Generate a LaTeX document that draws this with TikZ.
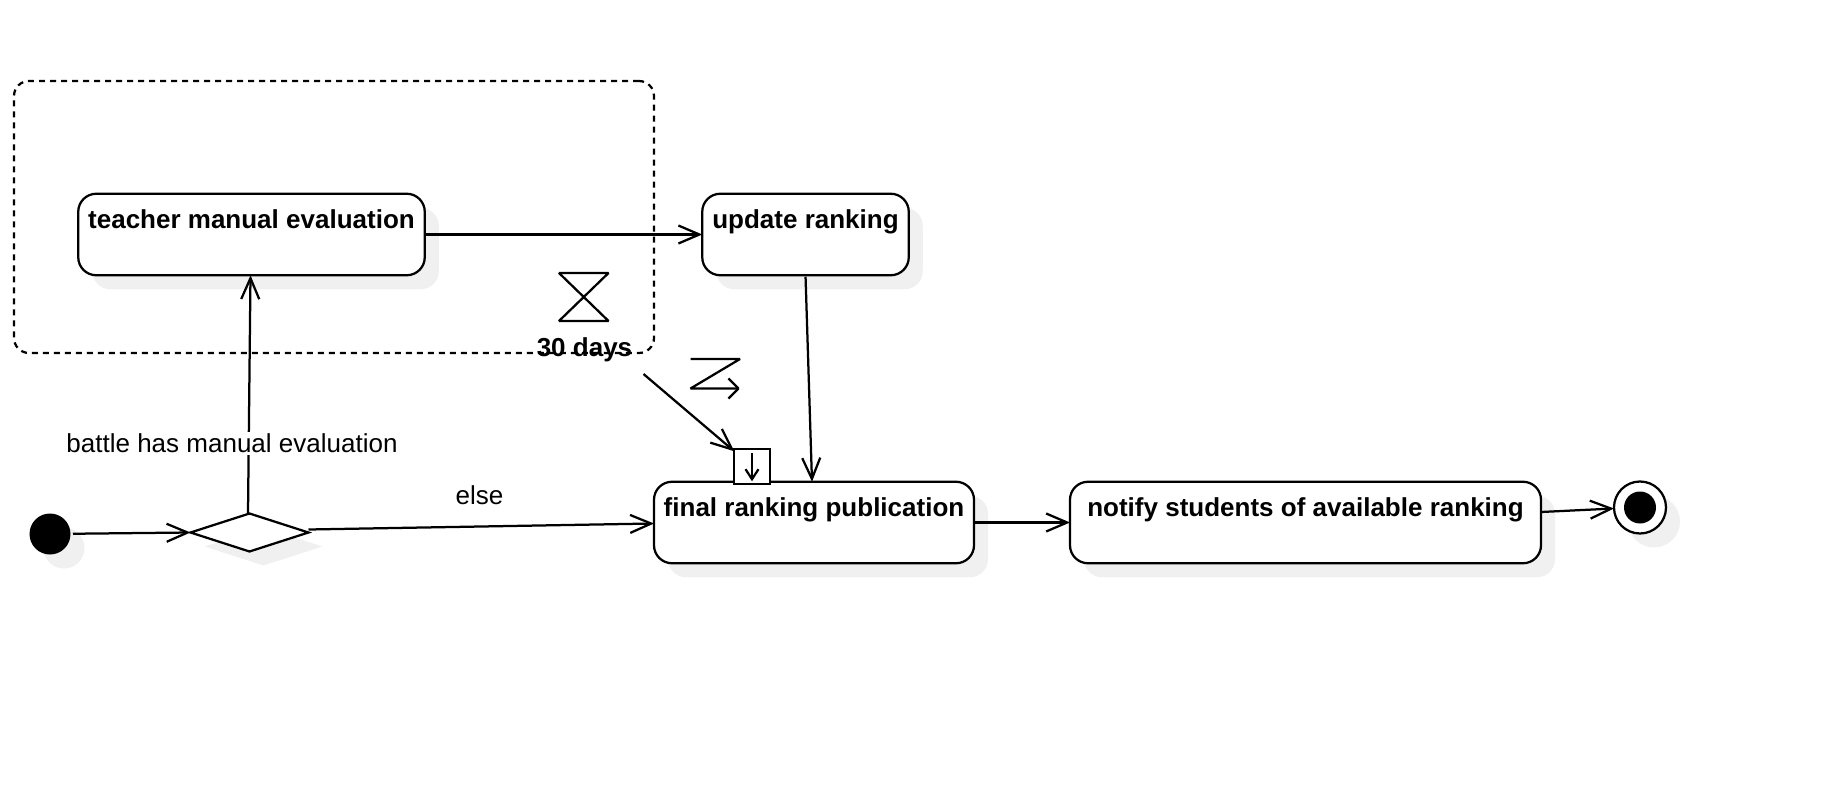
\documentclass[tikz,border=0pt]{standalone}
\usepackage{fontspec}
\setmainfont{Liberation Sans}
\usetikzlibrary{positioning,shapes,shadows,arrows.meta}

\begin{document}
\begin{tikzpicture}[line width=0.045cm]
    \tikzset{
        softshadow/.style = {drop shadow={shadow xshift=0.28cm, shadow yshift=-0.28cm, fill=black!6, opacity=1}},
        statebox/.style = {rectangle, rounded corners=0.36cm, draw=black, fill=white, outer sep=0pt, minimum height=1.63cm,
                           inner xsep=2pt, text height=0.4cm, text depth=0.655cm, font=\fontsize{14.8}{17}\selectfont\bfseries, softshadow},
        guard/.style = {font=\fontsize{14.8}{18}\selectfont, inner sep=1pt},
        bullet/.style = {circle, fill=black, inner sep=0pt, outer sep=0pt},
        arrow/.style = {-{Straight Barb[length=0.42cm,width=0.36cm]}},
        tinyarrow/.style = {-{Straight Barb[length=0.2cm,width=0.26cm]}},
    }
    \useasboundingbox (0,0) rectangle (36.62,15.92);

    \node (region) [draw, dash pattern=on 0.12cm off 0.1cm, rounded corners=0.3cm, outer sep=0pt,
                    minimum width=12.8cm, minimum height=5.44cm] at (6.68,11.58) {};

    \node (final) [statebox, minimum width=6.4cm] at (16.28,5.47) {final ranking publication};
    \node (update) [statebox, minimum width=4.13cm, above=4.13cm of final, xshift=-0.17cm] {update ranking};
    \node (teacher) [statebox, minimum width=6.93cm, left=5.55cm of update] {teacher manual evaluation};
    \node (notify) [statebox, minimum width=9.42cm, right=1.92cm of final] {notify students of available ranking};
    \node (decision) [diamond, aspect=3.15, draw, fill=white, inner sep=0pt, outer sep=0pt, minimum width=2.36cm, minimum height=0.76cm,
                      softshadow, left=6.91cm of final, yshift=-0.2cm] {};
    \node (start) [bullet, minimum size=0.82cm, softshadow, left=2.4cm of decision, yshift=-0.03cm] {};
    \node (end) [circle, draw, fill=white, outer sep=0pt, minimum size=1.04cm, softshadow, right=1.46cm of notify, yshift=0.3cm] {};
    \node (endcore) [bullet, minimum size=0.64cm] at (end) {};

    \node (pin) [draw, fill=white, outer sep=0pt, minimum size=0.71cm, above=-0.05cm of final, xshift=-1.24cm] {};
    \draw [tinyarrow, shorten <=0.08cm, shorten >=0.06cm] (pin.north) -- (pin.south);

    % timer with its label
    \draw [miter limit=1.5] (11.18,10.46) -- (12.17,10.46) -- (11.18,9.5) -- (12.17,9.5) -- cycle;
    \node (days) [font=\fontsize{14.8}{18}\selectfont\bfseries, inner sep=0pt] at (11.69,8.93) {30 days};

    % interrupt sign
    \draw [miter limit=1, -{Straight Barb[length=0.2cm,width=0.4cm]}] (13.81,8.74) -- (14.8,8.74) -- (13.81,8.15) -- (14.8,8.15);

    \coordinate (flowstart) at (12.87,8.44);
    \draw [arrow] (flowstart) -- ([shift={(0,-0.05)}]pin.north west);

    \draw [arrow, shorten <=0.05cm] (start) -- (decision.west);
    \draw [arrow] ([xshift=-0.03cm]decision.north) -- ([xshift=-0.02cm]teacher.south);
    \draw [arrow] ([yshift=0.06cm]decision.east) -- ([yshift=-0.02cm]final.west);
    \draw [arrow, shorten <=0.02cm] (teacher.east) -- (update.west);
    \draw [arrow, shorten <=0.03cm] (update.south) -- ([xshift=-0.04cm]final.north);
    \draw [arrow] (final.east) -- (notify.west);
    \draw [arrow] ([yshift=0.21cm]notify.east) -- ([yshift=-0.02cm]end.west);

    \node (manual) [guard, fill=white] at (4.64,7.05) {battle has manual evaluation};
    \node (else) [guard] at (9.59,6.02) {else};
\end{tikzpicture}
\end{document}
